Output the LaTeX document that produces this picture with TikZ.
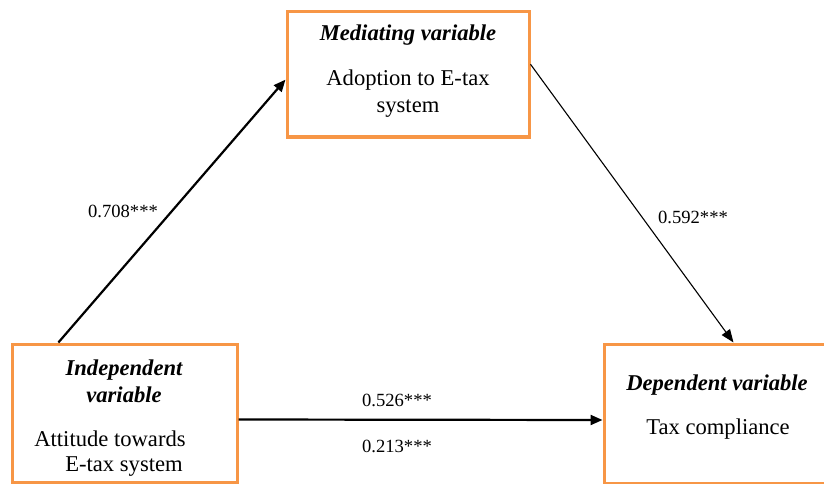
\documentclass[tikz,border=0pt]{standalone}
\usepackage{fontspec}
\setmainfont{Liberation Serif}
\usetikzlibrary{arrows.meta, calc, positioning}
\definecolor{boxorange}{RGB}{247,150,70}
\tikzset{
	% orange frame of a variable
	varbox/.style={
		draw=boxorange,
		line width=3pt,
		rectangle,
		inner sep=0pt
	}, %
	% texts in the frames
	head/.style={
		font=\fontsize{22.6}{27}\selectfont\bfseries\itshape,
		align=center,
		inner sep=0pt
	}, %
	body/.style={
		font=\fontsize{22.6}{27}\selectfont,
		align=center,
		inner sep=0pt
	}, %
	coef/.style={
		font=\fontsize{18.6}{20}\selectfont,
		inner sep=0pt
	} %
}
\begin{document}
\begin{tikzpicture}[x=1pt, y=-1pt]
			\useasboundingbox (0,0) rectangle (824,484);
			\clip (0,0) rectangle (824,484);
			
			%% frames
			\node [varbox, minimum width=242pt, minimum height=125pt] (med) at (408,74.5) {};
			\node [varbox, minimum width=225pt, minimum height=138pt] (indep) at (124.5,413) {};
			\node [varbox, minimum width=226pt, minimum height=139pt] (dep) at (717,413.5) {};
			
			%% texts
			\node [head] (medhead) at (408,35) {Mediating variable};
			\node [body] (medbody) at (408,93.5) {Adoption to E-tax\\system};
			\node [head] (indephead) at (124,381.5) {Independent\\variable};
			\node [body] (indepbody1) at (110,439) {Attitude towards};
			\node [body] (indepbody2) at (124,467) {E-tax system};
			\node [head] (dephead) at (717,385) {Dependent variable};
			\node [body] (depbody) at (718,429) {Tax compliance};
			
			%% paths
			\draw [-{Triangle[length=12pt, width=10pt]}, line width=2.2pt]
				($(indep.north west)!0.21!(indep.north east)$) -- ($(med.north west)!0.54!(med.south west)$);
			\draw [-{Triangle[length=13pt, width=10pt]}, line width=1.1pt]
				($(med.north east)!0.42!(med.south east)$) -- ($(dep.north west)+(131,0)$);
			\draw [-{Triangle[length=12pt, width=10pt]}, line width=2.2pt]
				($(indep.east)+(0,6.5)$) -- ($(dep.west)+(0,6.5)$);
			
			%% coefficients
			\node [coef] (c1) at (123,211) {0.708***};
			\node [coef] (c2) at (693,217) {0.592***};
			\node [coef] (c3) at (397,400) {0.526***};
			\node [coef] (c4) at (397,446) {0.213***};
		\end{tikzpicture}
\end{document}
